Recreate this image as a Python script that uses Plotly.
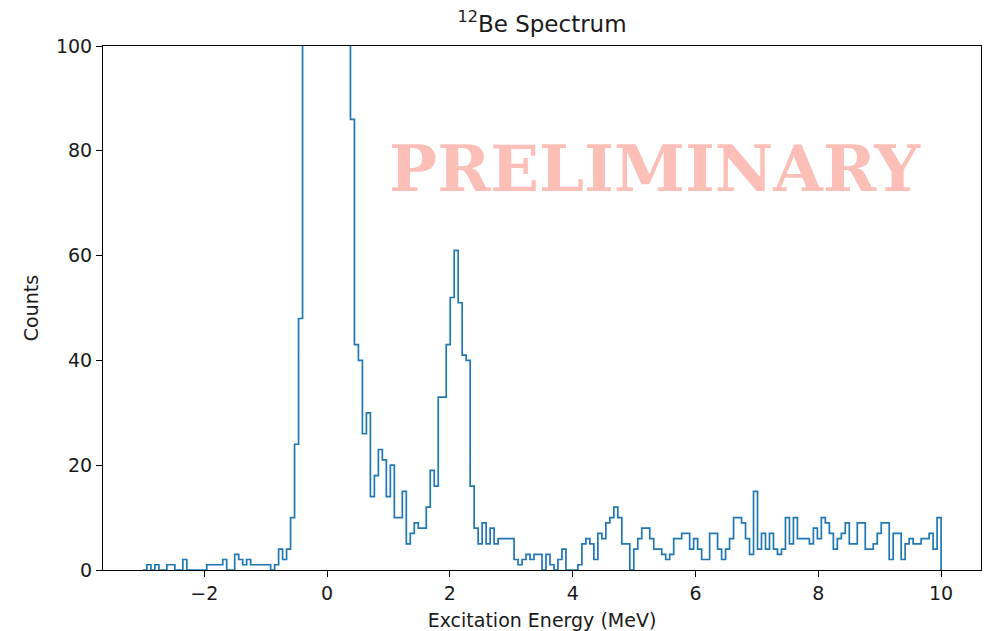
import numpy as np
import plotly.graph_objects as go

# ---- data ----
BIN_LO = -3.0
BIN_HI = 10.0
COUNTS = [
    0, 1, 0, 1, 0, 0, 1, 1, 0, 0,
    2, 0, 0, 0, 0, 0, 1, 1, 1, 1,
    2, 0, 0, 3, 2, 1, 2, 1, 1, 1,
    1, 1, 0, 1, 4, 2, 4, 10, 24, 48,
    150, 260, 380, 470, 520, 510, 450, 360, 270, 190,
    140, 110, 86, 43, 40, 26, 30, 14, 18, 23,
    21, 14, 20, 10, 10, 15, 5, 7, 9, 8,
    8, 12, 19, 16, 33, 33, 43, 52, 61, 51,
    41, 40, 16, 8, 5, 9, 5, 8, 5, 6,
    6, 6, 6, 2, 1, 2, 3, 2, 3, 3,
    0, 3, 1, 0, 2, 4, 0, 0, 0, 1,
    5, 6, 5, 2, 7, 6, 9, 10, 12, 10,
    5, 5, 0, 4, 6, 8, 8, 6, 4, 4,
    3, 2, 3, 6, 6, 7, 7, 4, 6, 4,
    2, 2, 7, 7, 4, 2, 4, 6, 10, 10,
    9, 6, 3, 15, 4, 7, 4, 7, 4, 3,
    4, 10, 5, 10, 6, 6, 6, 5, 8, 6,
    10, 9, 7, 4, 6, 7, 9, 5, 5, 9,
    9, 4, 4, 5, 7, 9, 9, 2, 7, 7,
    2, 5, 6, 5, 5, 6, 6, 7, 4, 10,
]
X_TICKS = [-2, 0, 2, 4, 6, 8, 10]
Y_TICKS = [0, 20, 40, 60, 80, 100]
TITLE = "<sup>12</sup>Be Spectrum"
X_LABEL = "Excitation Energy (MeV)"
Y_LABEL = "Counts"
WATERMARK = "PRELIMINARY"

# ---- step outline like matplotlib histtype='step' ----
counts = np.array(COUNTS, dtype=float)
edges = np.linspace(BIN_LO, BIN_HI, len(counts) + 1)
xs = np.concatenate([[edges[0]], np.repeat(edges, 2)[1:-1], [edges[-1]]])
ys = np.concatenate([[0.0], np.repeat(counts, 2), [0.0]])

span = BIN_HI - BIN_LO
x_range = [BIN_LO - 0.05 * span, BIN_HI + 0.05 * span]

FONT = "DejaVu Sans"
TXT = "#1a1a1a"

fig = go.Figure()
fig.add_trace(go.Scatter(
    x=xs, y=ys, mode="lines",
    line=dict(color="#1f77b4", width=1.7),
    hoverinfo="skip", showlegend=False, cliponaxis=True,
))

axis_common = dict(
    showline=True, mirror=True, linecolor="black", linewidth=1,
    ticks="outside", ticklen=6, tickwidth=1, tickcolor="black",
    showgrid=False, zeroline=False, automargin=False,
    tickfont=dict(family=FONT, size=19, color=TXT),
)

# page body has an 8px margin, so the figure is sized/offset to compensate
W, H = 984, 623
fig.update_layout(
    width=W, height=H,
    margin=dict(l=95, r=11, t=38, b=61),
    paper_bgcolor="white", plot_bgcolor="white",
    title=dict(text=TITLE, x=(95 + 878 / 2) / W, xanchor="center", y=1 - 16 / H,
               yanchor="middle", yref="container",
               font=dict(family=FONT, size=23, color=TXT)),
    xaxis=dict(range=x_range, tickvals=X_TICKS,
               ticktext=[("\u2212" + str(-v)) if v < 0 else str(v) for v in X_TICKS],
               title=dict(text=X_LABEL, font=dict(family=FONT, size=19, color=TXT),
                          standoff=10),
               **axis_common),
    yaxis=dict(range=[0, 100], tickvals=Y_TICKS,
               title=dict(text=Y_LABEL, font=dict(family=FONT, size=19, color=TXT),
                          standoff=12),
               **axis_common),
)

fig.add_annotation(
    text="<b>" + WATERMARK + "</b>", xref="paper", yref="paper",
    x=0.629, y=0.766, xanchor="center", yanchor="middle", showarrow=False,
    font=dict(family="DejaVu Serif", size=64, color="rgba(250,128,114,0.5)"),
)

fig.write_html("out.html")
